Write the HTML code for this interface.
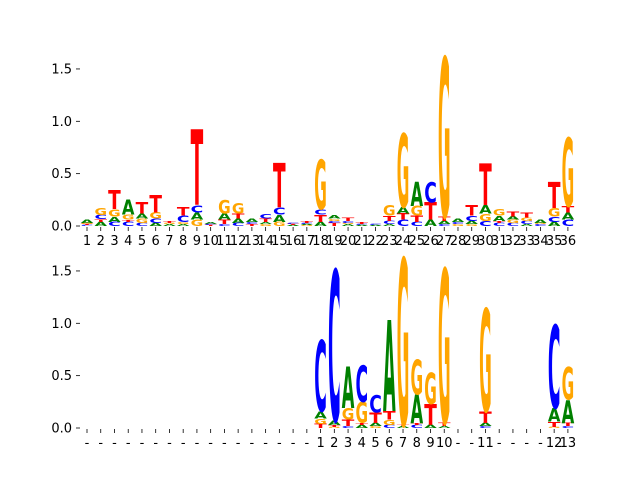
<!DOCTYPE html>
<html><head><meta charset="utf-8"><style>
html,body{margin:0;padding:0;background:#fff;}
svg{display:block;font-family:"DejaVu Sans","Liberation Sans",sans-serif;}
</style></head><body>
<svg id="chart" width="640" height="480" viewBox="0 0 640 480" xmlns="http://www.w3.org/2000/svg"></svg>
<script>
const topColumns = [
 [['C',.01],['T',.01],['G',.01],['A',.03]],
 [['A',.04],['T',.025],['C',.04],['G',.07]],
 [['C',.04],['A',.05],['G',.07],['T',.18]],
 [['C',.04],['T',.02],['G',.05],['A',.14]],
 [['C',.03],['G',.04],['A',.05],['T',.11]],
 [['A',.03],['C',.04],['G',.06],['T',.17]],
 [['A',.02],['G',.01],['T',.02]],
 [['A',.02],['G',.02],['C',.06],['T',.08]],
 [['G',.06],['A',.07],['C',.07],['T',.72]],
 [['T',.01],['C',.01],['A',.02]],
 [['C',.02],['T',.04],['A',.06],['G',.13]],
 [['C',.03],['A',.04],['T',.05],['G',.1]],
 [['T',.02],['C',.02],['A',.03]],
 [['G',.02],['A',.02],['T',.03],['C',.04]],
 [['G',.04],['A',.07],['C',.07],['T',.42]],
 [['A',.01],['T',.01],['C',.01]],
 [['G',.01],['A',.01],['C',.01],['T',.02]],
 [['A',.04],['T',.07],['C',.05],['G',.47]],
 [['T',.03],['C',.02],['G',.02],['A',.03]],
 [['A',.02],['G',.01],['C',.02],['T',.03]],
 [['A',.01],['C',.01],['T',.02]],
 [['A',.01],['C',.01]],
 [['A',.02],['C',.03],['T',.05],['G',.1]],
 [['C',.06],['T',.06],['A',.06],['G',.7]],
 [['C',.04],['T',.06],['G',.09],['A',.23]],
 [['A',.06],['T',.17],['C',.19]],
 [['C',.02],['A',.03],['T',.04],['G',1.52]],
 [['G',.02],['C',.02],['A',.03]],
 [['G',.02],['A',.03],['C',.05],['T',.1]],
 [['C',.05],['G',.07],['A',.08],['T',.4]],
 [['C',.03],['T',.02],['A',.05],['G',.06]],
 [['C',.03],['G',.03],['A',.03],['T',.05]],
 [['A',.02],['C',.03],['G',.03],['T',.05]],
 [['C',.02],['G',.01],['A',.03]],
 [['A',.04],['C',.05],['G',.08],['T',.25]],
 [['C',.06],['A',.07],['T',.06],['G',.65]]
];
const topLabels = Array.from({length:36},(_,i)=>String(i+1));
const bottomColumns = [
 [],[],[],[],[],[],[],[],[],[],[],[],[],[],[],[],[],
 [['T',.04],['G',.05],['A',.07],['C',.68]],
 [['G',.01],['T',.02],['A',.04],['C',1.44]],
 [['C',.02],['T',.06],['G',.11],['A',.4]],
 [['A',.03],['T',.02],['G',.2],['C',.35]],
 [['G',.02],['A',.03],['T',.1],['C',.17]],
 [['C',.03],['G',.05],['T',.08],['A',.87]],
 [['A',.02],['T',.01],['G',1.59]],
 [['C',.03],['T',.02],['A',.27],['G',.33]],
 [['A',.03],['T',.2],['G',.3]],
 [['A',.02],['T',.03],['G',1.47]],
 [],[],
 [['C',.02],['A',.03],['T',.11],['G',.98]],
 [],[],[],[],
 [['G',.01],['T',.05],['A',.13],['C',.79]],
 [['C',.02],['T',.03],['A',.22],['G',.31]]
];
const bottomLabels = ['-','-','-','-','-','-','-','-','-','-','-','-','-','-','-','-','-','1','2','3','4','5','6','7','8','9','10','-','-','11','-','-','-','-','12','13'];
const yTicks = [0,0.5,1.0,1.5];
const yTickLabels = ['0.0','0.5','1.0','1.5'];

const NS='http://www.w3.org/2000/svg';
const svg=document.getElementById('chart');
const colors={A:'#008000',C:'#0000ff',G:'#ffa500',T:'#ff0000'};
const xs=i=>87+i*13.74;
const CAP=73;
function panel(cols,labels,y0,name){
  const ys=v=>y0-v*104.7;
  const g=document.createElementNS(NS,'g');
  
  
  svg.appendChild(g);
  yTicks.forEach((t,k)=>{
    const l=document.createElementNS(NS,'line');
    l.setAttribute('x1',76);l.setAttribute('x2',80);
    l.setAttribute('y1',ys(t));l.setAttribute('y2',ys(t));
    l.setAttribute('stroke','#000');l.setAttribute('stroke-width','0.8');
    
    
    g.appendChild(l);
    const tx=document.createElementNS(NS,'text');
    tx.setAttribute('x',72);tx.setAttribute('y',ys(t)+4.5);
    tx.setAttribute('text-anchor','end');tx.setAttribute('font-size','13');
    tx.textContent=yTickLabels[k];
    
    
    g.appendChild(tx);
  });
  labels.forEach((lab,i)=>{
    const x=xs(i);
    const l=document.createElementNS(NS,'line');
    l.setAttribute('x1',x);l.setAttribute('x2',x);
    l.setAttribute('y1',y0+1);l.setAttribute('y2',y0+5);
    l.setAttribute('stroke','#000');l.setAttribute('stroke-width','0.8');
    
    
    g.appendChild(l);
    const tx=document.createElementNS(NS,'text');
    tx.setAttribute('x',x);tx.setAttribute('y',y0+19);
    tx.setAttribute('text-anchor','middle');tx.setAttribute('font-size','13');
    tx.textContent=lab;
    
    
    g.appendChild(tx);
  });
  cols.forEach((col,i)=>{
    let acc=0;
    const w=12.6;
    col.forEach(([ch,h])=>{
      const yb=ys(acc);
      acc+=h;
      const ph=h*104.7;
      if(ph<=0)return;
      const t=document.createElementNS(NS,'text');
      t.setAttribute('x',0);t.setAttribute('y',0);
      t.setAttribute('font-size','100');t.setAttribute('font-weight','bold');
      t.setAttribute('textLength',w);t.setAttribute('lengthAdjust','spacingAndGlyphs');
      t.setAttribute('fill',colors[ch]);
      t.setAttribute('transform',`translate(${xs(i)-w/2},${yb}) scale(1,${ph/CAP})`);
      t.textContent=ch;
      
      
      g.appendChild(t);
    });
  });
}
panel(topColumns,topLabels,226,'top-logo-panel');
panel(bottomColumns,bottomLabels,428,'bottom-logo-panel');
</script>
</body></html>
